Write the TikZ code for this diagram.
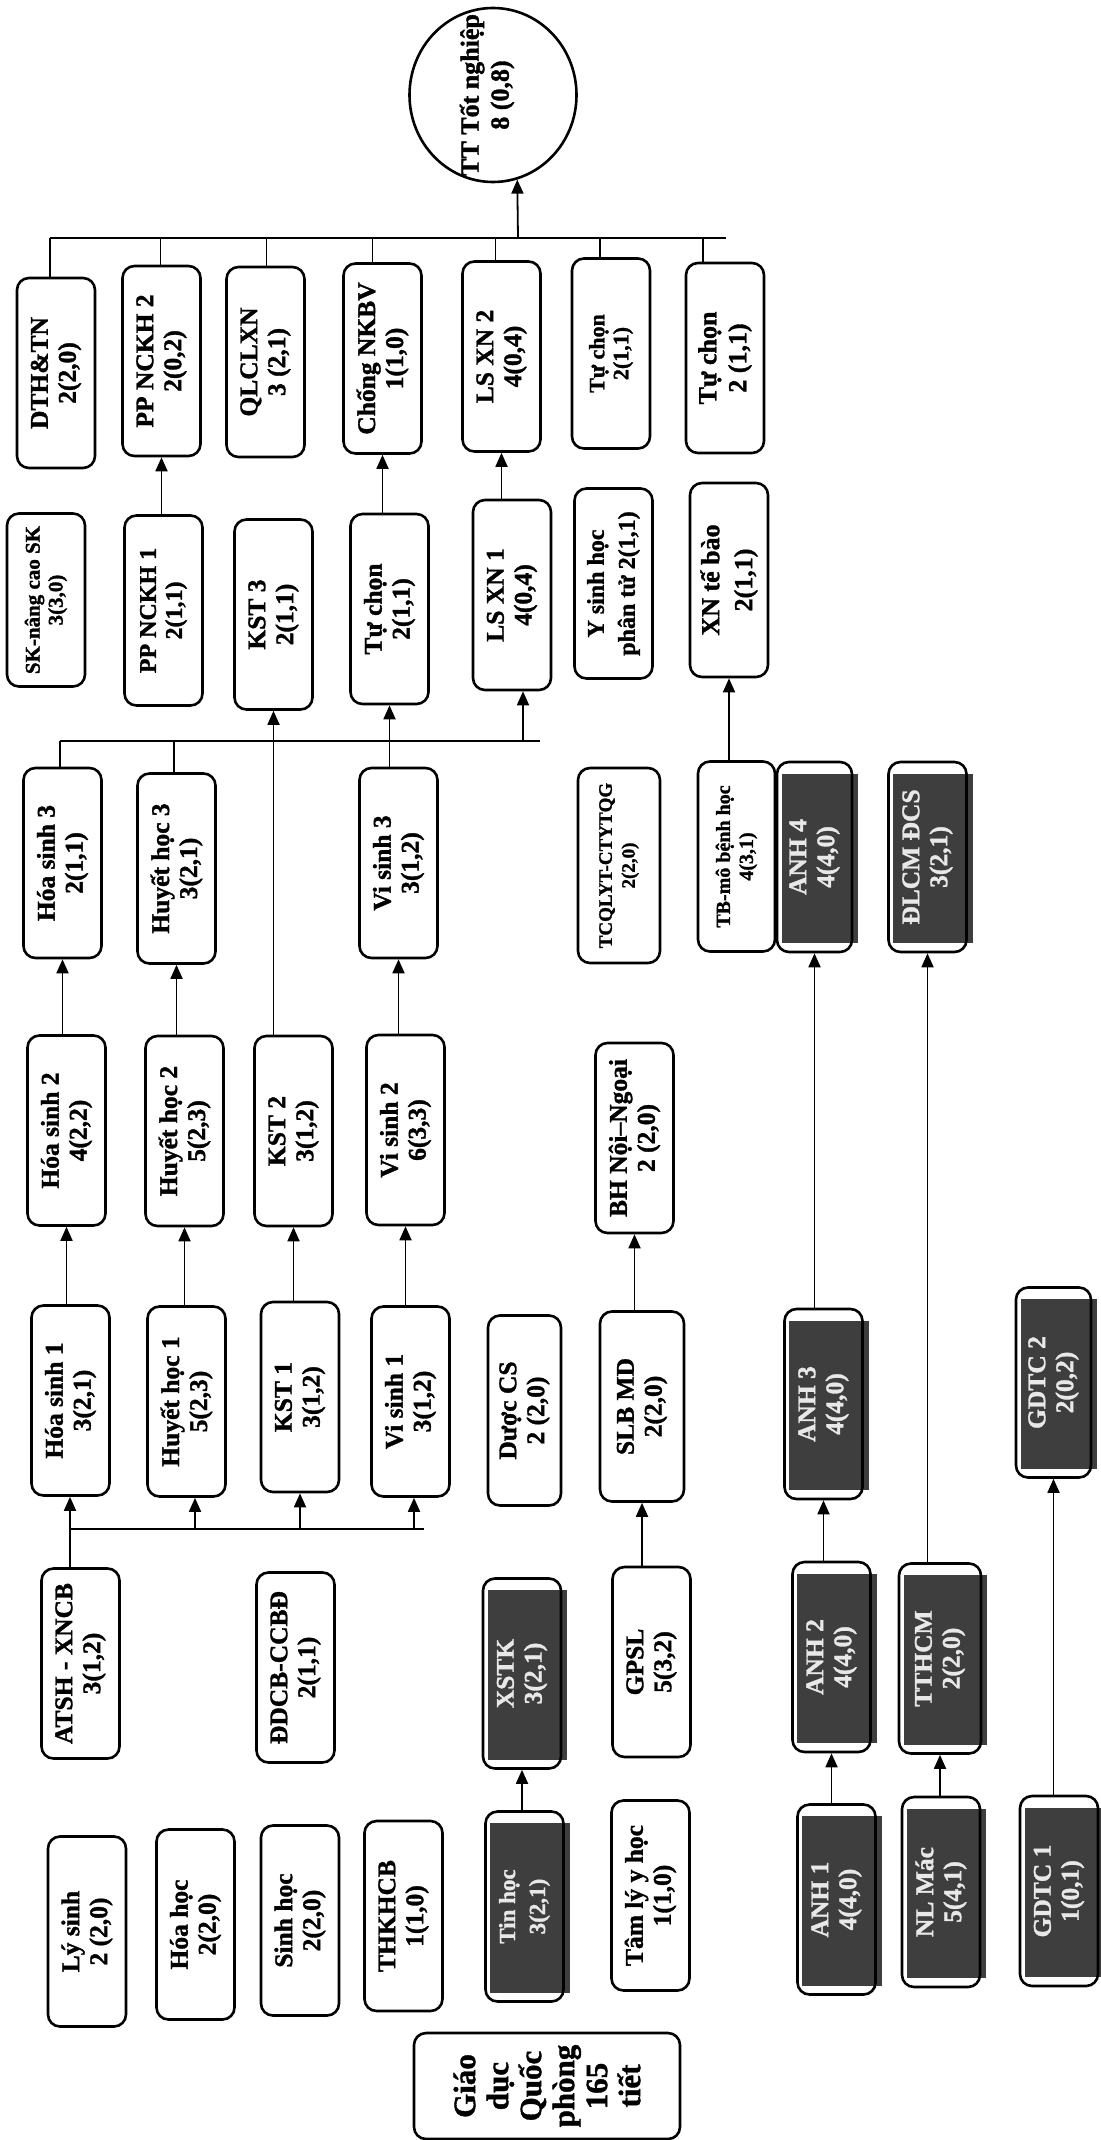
\documentclass[tikz,border=0pt]{standalone}
\usepackage{fontspec}
\setmainfont{Liberation Serif}[BoldFeatures={FakeBold=1.3}]
\usetikzlibrary{arrows.meta,shapes.geometric,backgrounds,calc}
\definecolor{boxdark}{RGB}{62,62,62}
\definecolor{boxtext}{RGB}{232,232,232}
\newcommand{\darkfill}[1]{\fill[boxdark] ($(#1.north east)+(6,13)$) rectangle ($(#1.south west)+(5,-10)$);}

\begin{document}
\begin{tikzpicture}[x=1pt,y=-1pt,
    box/.style={draw,line width=2.6pt,rounded corners=12pt,rotate=90,
      minimum width=190pt,minimum height=78pt,inner sep=1pt,align=center,
      font=\fontsize{25.5}{28}\selectfont\bfseries},
    dark/.style={box,text=boxtext},
    fs/.style 2 args={font=\fontsize{#1}{#2}\selectfont\bfseries},
    ln/.style={line width=1.8pt},
    arr/.style={ln,-{Triangle[length=14pt,width=12pt]}}]
  \useasboundingbox (0,0) rectangle (1100,2140);

  \node[draw,ellipse,line width=2.6pt,minimum width=167pt,minimum height=174pt,inner sep=0pt] (tn) at (493,95) {};
  \node[rotate=90,align=center,fs={26}{30}] (tntxt) at (487,95) {TT Tốt nghiệp\\8 (0,8)};

  \node[box] (dth) at (56,373) {DTH\&TN\\2(2,0)};
  \node[box] (ppb) at (161.5,361) {PP NCKH 2\\2(0,2)};
  \node[box] (qlcl) at (265.5,362) {QLCLXN\\3 (2,1)};
  \node[box] (nkbv) at (382.5,358.5) {Chống NKBV\\1(1,0)};
  \node[box] (lsb) at (501.5,356.5) {LS XN 2\\4(0,4)};
  \node[box,fs={22}{24}] (tca) at (611,353.5) {Tự chọn\\2(1,1)};
  \node[box,fs={26}{30}] (tcb) at (725,358) {Tự chọn\\2 (1,1)};

  \node[box,fs={21}{23},minimum width=173pt] (sk) at (46,600) {SK-nâng cao SK\\3(3,0)};
  \node[box,fs={24}{26}] (ppa) at (163.5,610.5) {PP NCKH 1\\2(1,1)};
  \node[box] (kst3) at (273.5,614.5) {KST 3\\2(1,1)};
  \node[box] (tcc) at (389.5,609) {Tự chọn\\2(1,1)};
  \node[box] (lsa) at (512,595) {LS XN 1\\4(0,4)};
  \node[box,fs={24}{31}] (ysh) at (613.5,583.5) {Y sinh học\\phân tử 2(1,1)};
  \node[box,fs={26}{33},minimum width=194pt] (xntb) at (729,580) {XN tế bào\\2(1,1)};

  \node[box] (hs3) at (62.5,863) {Hóa sinh 3\\2(1,1)};
  \node[box] (hh3) at (176.5,868.5) {Huyết học 3\\3(2,1)};
  \node[box] (vs3) at (398.5,863) {Vi sinh 3\\3(1,2)};
  \node[box,fs={19}{23},minimum height=82pt,minimum width=195pt] (tcql) at (619,865.5) {TCQLYT-CTYTQG\\2(2,0)};
  \node[box,fs={20}{23},minimum height=77pt] (tbmo) at (736.5,856.5) {TB-mô bệnh học\\4(3,1)};
  \node[dark,minimum height=75pt] (anh4) at (814.5,857) {ANH 4\\4(4,0)};
  \node[dark] (dlcm) at (927.5,857) {ĐLCM ĐCS\\3(2,1)};

  \node[box] (hs2) at (66.5,1130.5) {Hóa sinh 2\\4(2,2)};
  \node[box] (hh2) at (184.5,1131) {Huyết học 2\\5(2,3)};
  \node[box] (kst2) at (293.5,1131) {KST 2\\3(1,2)};
  \node[box] (vs2) at (405.5,1130) {Vi sinh 2\\6(3,3)};
  \node[box] (bh) at (634.5,1138) {BH Nội–Ngoại\\2 (2,0)};

  \node[box] (hs1) at (70.5,1400.5) {Hóa sinh 1\\3(2,1)};
  \node[box] (hh1) at (186.5,1401.5) {Huyết học 1\\5(2,3)};
  \node[box] (kst1) at (300,1397) {KST 1\\3(1,2)};
  \node[box] (vs1) at (410.5,1401.5) {Vi sinh 1\\3(1,2)};
  \node[box,minimum height=73pt] (dcs) at (524.5,1410.5) {Dược CS\\2 (2,0)};
  \node[box,minimum height=84pt] (slb) at (642,1406.5) {SLB MD\\2(2,0)};
  \node[dark] (anh3) at (823.5,1404) {ANH 3\\4(4,0)};
  \node[dark,minimum height=75pt] (gdtc2) at (1053.5,1382.5) {GDTC 2\\2(0,2)};

  \node[box] (atsh) at (80.5,1663.5) {ATSH - XNCB\\3(1,2)};
  \node[box] (ddcb) at (295.5,1667.5) {ĐDCB-CCBĐ\\2(1,1)};
  \node[dark] (xstk) at (522,1673.5) {XSTK\\3(2,1)};
  \node[box] (gpsl) at (651.5,1662) {GPSL\\5(3,2)};
  \node[dark] (anh2) at (831.5,1657) {ANH 2\\4(4,0)};
  \node[dark,minimum height=82pt] (tthcm) at (940,1658.5) {TTHCM\\2(2,0)};

  \node[box] (lys) at (87,1931.5) {Lý sinh\\2 (2,0)};
  \node[box] (hoah) at (195.5,1924.5) {Hóa học\\2(2,0)};
  \node[box] (sinh) at (300,1920.5) {Sinh học\\2(2,0)};
  \node[box] (thkh) at (403.5,1916) {THKHCB\\1(1,0)};
  \node[dark,fs={23}{30}] (tin) at (524.5,1906.5) {Tin học\\3(2,1)};
  \node[box] (tly) at (650.5,1895.5) {Tâm lý y học\\1(1,0)};
  \node[dark] (anh1) at (836.5,1899.5) {ANH 1\\4(4,0)};
  \node[dark] (nlm) at (941,1892) {NL Mác\\5(4,1)};
  \node[dark] (gdtc1) at (1059,1891) {GDTC 1\\1(0,1)};
  \node[box,fs={31}{33},minimum width=106pt,minimum height=266pt] (gdqp) at (547,2086) {Giáo\\dục\\Quốc\\phòng\\165\\tiết};

  \begin{pgfonlayer}{background}
    \foreach \n in {anh4,dlcm,anh3,gdtc2,xstk,anh2,tthcm,tin,anh1,nlm,gdtc1} {\darkfill{\n}}
  \end{pgfonlayer}

  % top bus to the graduation node
  \coordinate (busA) at (50,238);
  \coordinate (busAe) at (726,238);
  \coordinate (tnin) at (518,238);
  \draw[ln] (busA) -- (busAe);
  \foreach \n/\s in {dth/-6,ppb/-1,qlcl/1,nkbv/-10,lsb/-6,tca/-11,tcb/-22}
    \draw[ln] ([xshift=\s pt]\n.east) -- ([xshift=\s pt]\n.east |- busA);
  \draw[arr] (tnin) -- (tn.-74);

  % bus into LS XN 1
  \coordinate (busB) at (60,741);
  \coordinate (busBe) at (540,741);
  \coordinate (busBls) at (523,741);
  \draw[ln] (busB) -- (busBe);
  \draw[ln] ([xshift=-2.5pt]hs3.east) -- ([xshift=-2.5pt]hs3.east |- busB);
  \draw[ln] ([xshift=-2.5pt]hh3.east) -- ([xshift=-2.5pt]hh3.east |- busB);
  \draw[arr] (busBls) -- (busBls |- lsa.west);

  % bus from ATSH - XNCB
  \coordinate (busC) at (70,1529);
  \coordinate (busCe) at (424,1529);
  \draw[ln] (busC) -- (busCe);
  \draw[ln] ([xshift=-10.5pt]atsh.east) -- (busC);
  \foreach \n/\x in {hs1/70,hh1/195,kst1/300,vs1/414}
    \draw[arr] (\x,1529) -- (\x,1529 |- \n.west);

  \foreach \a/\b in {ppa/ppb,tcc/nkbv,lsa/lsb,kst2/kst3,vs3/tcc,tbmo/xntb,
      hs2/hs3,hh2/hh3,vs2/vs3,hs1/hs2,hh1/hh2,kst1/kst2,vs1/vs2,slb/bh,
      anh3/anh4,tthcm/dlcm,anh2/anh3,gdtc1/gdtc2,tin/xstk,gpsl/slb,
      anh1/anh2,nlm/tthcm}
    \draw[arr] (\a.east -| \b) -- (\b.west);
\end{tikzpicture}
\end{document}
